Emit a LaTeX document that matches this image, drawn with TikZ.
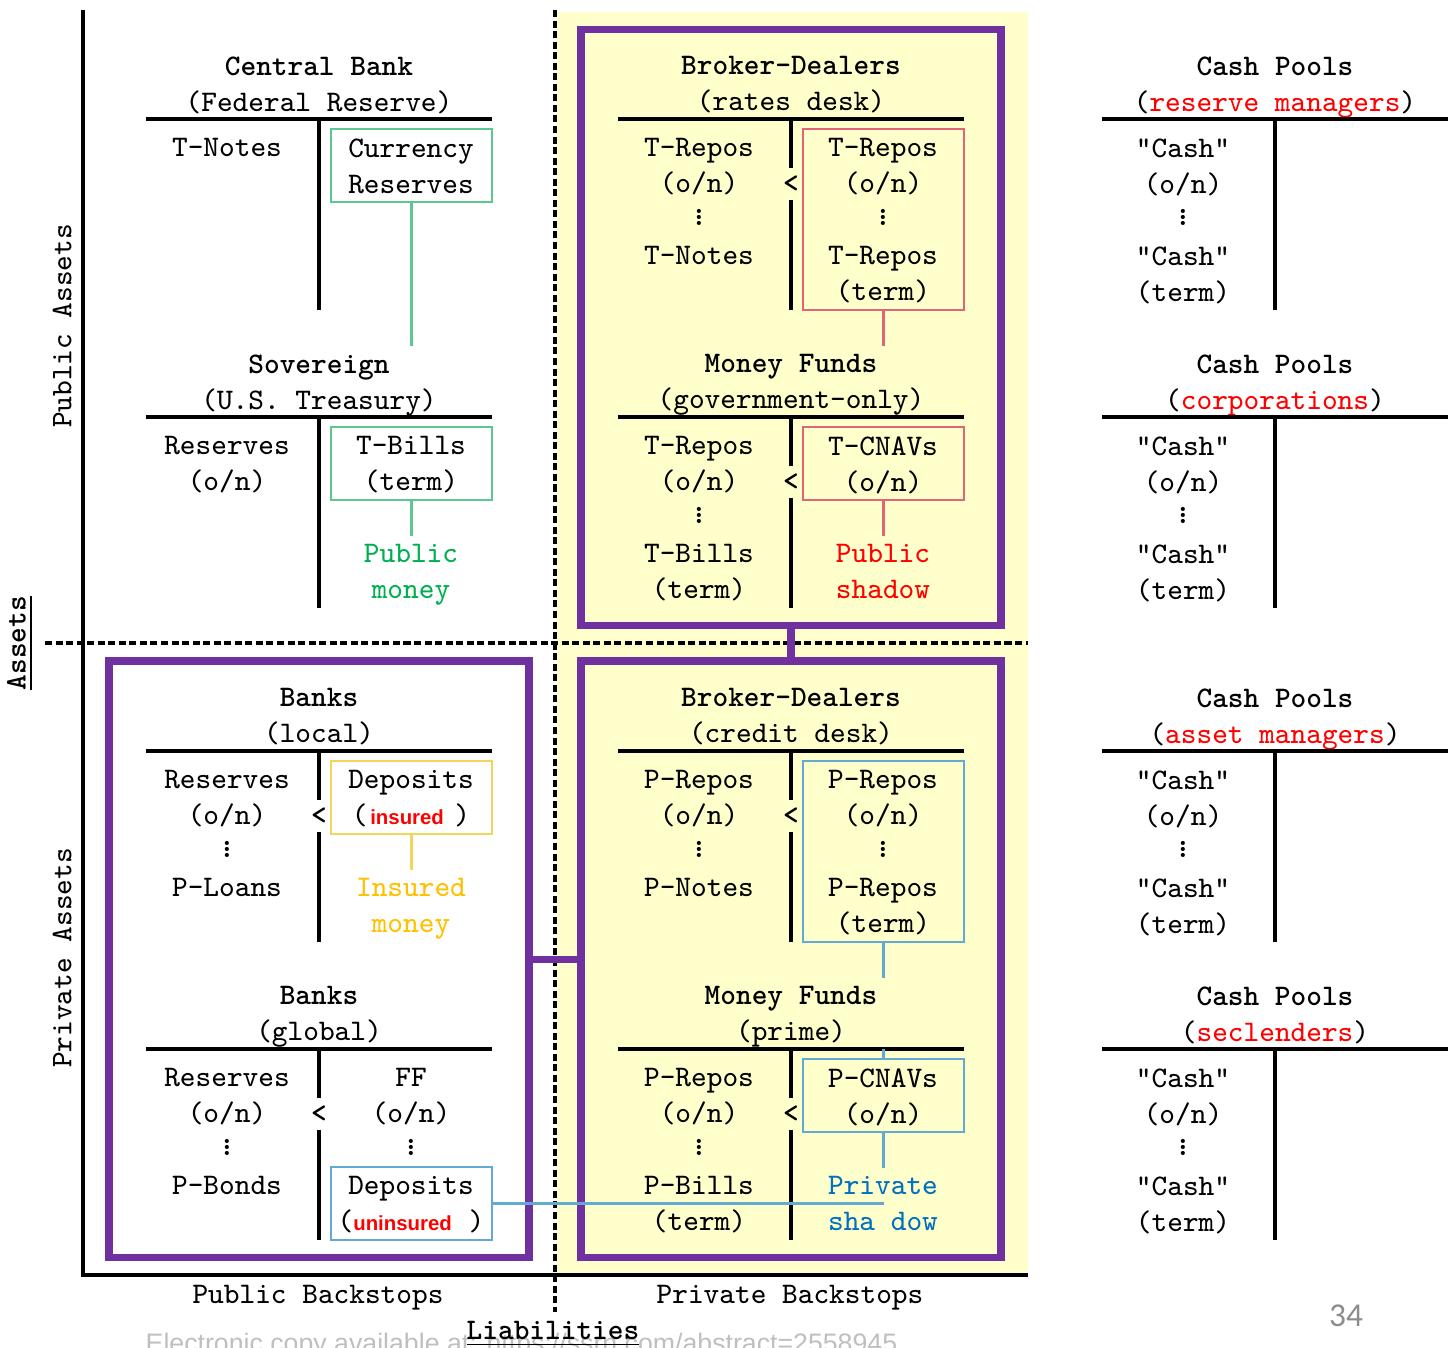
\documentclass[tikz,border=0pt]{standalone}
\usepackage{fontspec}
\usepackage{tikz}
\newfontfamily\arialfont{Liberation Sans}
\newfontfamily\calfont{Carlito}
\definecolor{bdpurple}{HTML}{7030A0}
\definecolor{bdyellow}{HTML}{FFFFCC}
\definecolor{pubgreen}{HTML}{00B050}
\definecolor{boxgreen}{HTML}{5CC890}
\definecolor{boxred}{HTML}{E26476}
\definecolor{boxyellow}{HTML}{F2D65A}
\definecolor{insgold}{HTML}{FFC000}
\definecolor{boxblue}{HTML}{62AAD2}
\definecolor{privblue}{HTML}{0070C0}
\definecolor{footgray}{HTML}{BFBFBF}
\definecolor{pagegray}{HTML}{8C8C8C}
\newcommand{\vd}{\vbox{\baselineskip=1.7pt\lineskiplimit=0pt\hbox{\bfseries.}\hbox{\bfseries.}\hbox{\bfseries.}\kern1pt}}
\newcommand{\riskword}[1]{{\arialfont\bfseries\fontsize{5.8}{10.24}\selectfont\color{red}#1}}

\begin{document}
\begin{tikzpicture}[x=1cm, y=-1cm,
    acct/.style={font=\fontsize{8.5}{10.24}\selectfont\ttfamily, align=center, inner sep=0pt},
    cell/.style={acct, anchor=north},
    lt/.style={acct, font=\fontsize{8.5}{10.24}\selectfont\ttfamily\bfseries},
    tline/.style={line width=1.1pt},
    axis/.style={line width=0.9pt},
    split/.style={line width=0.9pt, dash pattern=on 2pt off 1pt},
    pbox/.style={draw=bdpurple, line width=2pt, minimum width=4.2cm, minimum height=5.96cm, inner sep=0pt},
    cbox/.style={line width=0.8pt, minimum width=1.61cm, minimum height=0.73cm, inner sep=0pt},
    tall/.style={minimum height=1.81cm},
    gbox/.style={cbox, draw=boxgreen},
    rbox/.style={cbox, draw=boxred},
    ybox/.style={cbox, draw=boxyellow},
    bbox/.style={cbox, draw=boxblue},
    gline/.style={draw=boxgreen, line width=0.8pt},
    rline/.style={draw=boxred, line width=0.8pt},
    yline/.style={draw=boxyellow, line width=0.8pt},
    bline/.style={draw=boxblue, line width=0.8pt}]
    \useasboundingbox (0,0) rectangle (14.51,13.47);
    \fill[bdyellow] (5.57,0.12) rectangle (10.28,12.75);
    \draw[axis] (0.83,0.10) -- (0.83,12.75) -- (10.28,12.75);
    \draw[split] (5.55,0.10) -- (5.55,13.12);
    \draw[split] (0.45,6.43) -- (10.28,6.43);

    % groups
    \node[pbox] (rates)  at (7.91,3.275) {};
    \node[pbox] (credit) at (7.91,9.59) {};
    \node[pbox] (banks)  at (3.19,9.59) {};
    \path[draw=bdpurple, line width=2pt] (rates) -- (credit) (banks) -- (credit);

    % Central Bank
    \node[cell] (cb)  at (3.19,0.56) {\textbf{Central Bank}\\(Federal Reserve)};
    \node[cell] (cbl) at (2.27,1.38) {T-Notes};
    \node[gbox] (cbbox) at (4.115,1.655) {};
    \node[cell] (cbr) at (4.11,1.38) {Currency\\Reserves};
    \draw[tline] (1.46,1.19) -- (4.92,1.19) (3.19,1.19) -- (3.19,3.10);
    \coordinate (cbend) at (4.115,3.46);

    % Broker-Dealers (rates desk)
    \node[cell] (rd)  at (7.91,0.56) {\textbf{Broker-Dealers}\\(rates desk)};
    \node[cell] (rdl) at (6.99,1.38) {T-Repos\\(o/n)\\\vd\\T-Notes};
    \node[rbox, tall] (rdbox) at (8.835,2.195) {};
    \node[cell] (rdr) at (8.83,1.38) {T-Repos\\(o/n)\\\vd\\T-Repos\\(term)};
    \node[lt] (rdlt) at (7.91,1.84) {<};
    \draw[tline] (6.18,1.19) -- (9.64,1.19) (7.91,1.19) -- (7.91,1.68) (7.91,2.00) -- (7.91,3.10);
    \coordinate (rdend) at (8.835,3.46);

    % Sovereign
    \node[cell] (sv)  at (3.19,3.54) {\textbf{Sovereign}\\(U.S.\ Treasury)};
    \node[cell] (svl) at (2.27,4.36) {Reserves\\(o/n)};
    \node[gbox] (svbox) at (4.115,4.635) {};
    \node[cell] (svr) at (4.11,4.36) {T-Bills\\(term)};
    \node[cell, text=pubgreen] (svm) at (4.11,5.44) {Public\\money};
    \draw[tline] (1.46,4.17) -- (4.92,4.17) (3.19,4.17) -- (3.19,6.08);
    \coordinate (svend) at (4.115,5.36);

    % Money Funds (government-only)
    \node[cell] (mg)  at (7.91,3.54) {\textbf{Money Funds}\\(government-only)};
    \node[cell] (mgl) at (6.99,4.36) {T-Repos\\(o/n)\\\vd\\T-Bills\\(term)};
    \node[rbox] (mgbox) at (8.835,4.635) {};
    \node[cell] (mgr) at (8.83,4.36) {T-CNAVs\\(o/n)};
    \node[cell, text=red] (mgs) at (8.83,5.44) {Public\\shadow};
    \node[lt] (mglt) at (7.91,4.82) {<};
    \draw[tline] (6.18,4.17) -- (9.64,4.17) (7.91,4.17) -- (7.91,4.66) (7.91,4.98) -- (7.91,6.08);
    \coordinate (mgend) at (8.835,5.36);

    % Banks (local)
    \node[cell] (bl)  at (3.19,6.88) {\textbf{Banks}\\(local)};
    \node[cell] (bll) at (2.27,7.70) {Reserves\\(o/n)\\\vd\\P-Loans};
    \node[ybox] (blbox) at (4.115,7.975) {};
    \node[cell] (blr) at (4.11,7.70) {Deposits\\(\hspace{0.8pt}\riskword{insured}\hspace{3pt})};
    \node[cell, text=insgold] (blm) at (4.11,8.78) {Insured\\money};
    \node[lt] (bllt) at (3.19,8.16) {<};
    \draw[tline] (1.46,7.51) -- (4.92,7.51) (3.19,7.51) -- (3.19,8.00) (3.19,8.32) -- (3.19,9.42);
    \coordinate (blend) at (4.115,8.70);

    % Broker-Dealers (credit desk)
    \node[cell] (cd)  at (7.91,6.88) {\textbf{Broker-Dealers}\\(credit desk)};
    \node[cell] (cdl) at (6.99,7.70) {P-Repos\\(o/n)\\\vd\\P-Notes};
    \node[bbox, tall] (cdbox) at (8.835,8.515) {};
    \node[cell] (cdr) at (8.83,7.70) {P-Repos\\(o/n)\\\vd\\P-Repos\\(term)};
    \node[lt] (cdlt) at (7.91,8.16) {<};
    \draw[tline] (6.18,7.51) -- (9.64,7.51) (7.91,7.51) -- (7.91,8.00) (7.91,8.32) -- (7.91,9.42);
    \coordinate (cdend) at (8.835,9.78);

    % Banks (global)
    \node[cell] (bg)  at (3.19,9.86) {\textbf{Banks}\\(global)};
    \node[cell] (bgl) at (2.27,10.68) {Reserves\\(o/n)\\\vd\\P-Bonds};
    \node[cell] (bgr) at (4.11,10.68) {FF\\(o/n)\\\vd};
    \node[bbox] (bgbox) at (4.115,12.035) {};
    \node[cell] (bgd) at (4.11,11.76) {Deposits\\(\riskword{uninsured}\hspace{4.8pt})};
    \node[lt] (bglt) at (3.19,11.14) {<};
    \draw[tline] (1.46,10.49) -- (4.92,10.49) (3.19,10.49) -- (3.19,10.98) (3.19,11.30) -- (3.19,12.40);
    \coordinate (bgend) at (8.835,12.035);

    % Money Funds (prime)
    \node[cell] (mp)  at (7.91,9.86) {\textbf{Money Funds}\\(prime)};
    \node[cell] (mpl) at (6.99,10.68) {P-Repos\\(o/n)\\\vd\\P-Bills\\(term)};
    \node[bbox] (mpbox) at (8.835,10.955) {};
    \node[cell] (mpr) at (8.83,10.68) {P-CNAVs\\(o/n)};
    \node[cell, text=privblue] (mps) at (8.83,11.76) {Private\\sha dow};
    \node[lt] (mplt) at (7.91,11.14) {<};
    \draw[tline] (6.18,10.49) -- (9.64,10.49) (7.91,10.49) -- (7.91,10.98) (7.91,11.30) -- (7.91,12.40);
    \coordinate (mptop) at (8.835,10.49);
    \coordinate (mpend) at (8.835,11.68);

    % Cash Pools
    \foreach \y/\who [count=\i] in {0.66/reserve managers, 3.64/corporations, 6.98/asset managers, 9.96/seclenders} {
        \node[cell] (cp\i) at (12.75,\y-0.10) {\textbf{Cash Pools}\\(\textcolor{red}{\who})};
        \node[cell] (cpl\i) at (11.83,\y+0.72) {"Cash"\\(o/n)\\\vd\\"Cash"\\(term)};
        \draw[tline] (11.02,\y+0.53) -- (14.48,\y+0.53) (12.75,\y+0.53) -- (12.75,\y+2.44);
    }

    % Links
    \path
        (cbbox) edge [gline] (cbend)
        (svbox) edge [gline] (svend)
        (rdbox) edge [rline] (rdend)
        (mgbox) edge [rline] (mgend)
        (blbox) edge [yline] (blend)
        (cdbox) edge [bline] (cdend)
        (mpbox)
            edge [bline] (mptop)
            edge [bline] (mpend)
        (bgbox) edge [bline] (bgend);

    % axis labels
    \node[acct, rotate=90] (pa)  at (0.62,3.26) {Public Assets};
    \node[acct, rotate=90] (pra) at (0.62,9.58) {Private Assets};
    \node[acct, rotate=90] (as)  at (0.20,6.43) {\textbf{\underline{Assets}}};
    \node[acct] (pub) at (3.18,12.98) {Public Backstops};
    \node[acct] (prv) at (7.90,12.98) {Private Backstops};
    \node[anchor=base west, inner sep=0pt, text=footgray, font=\arialfont\fontsize{7.6}{9}\selectfont] (ecopy) at (1.45,13.52) {Electronic copy available at: https://ssrn.com/abstract=2558945};
    \node[acct] (li)  at (5.53,13.34) {\textbf{\underline{Liabilities}}};
    \node[inner sep=0pt, text=pagegray, font=\calfont\fontsize{9.5}{11}\selectfont] (pageno) at (13.46,13.16) {34};
\end{tikzpicture}
\end{document}
